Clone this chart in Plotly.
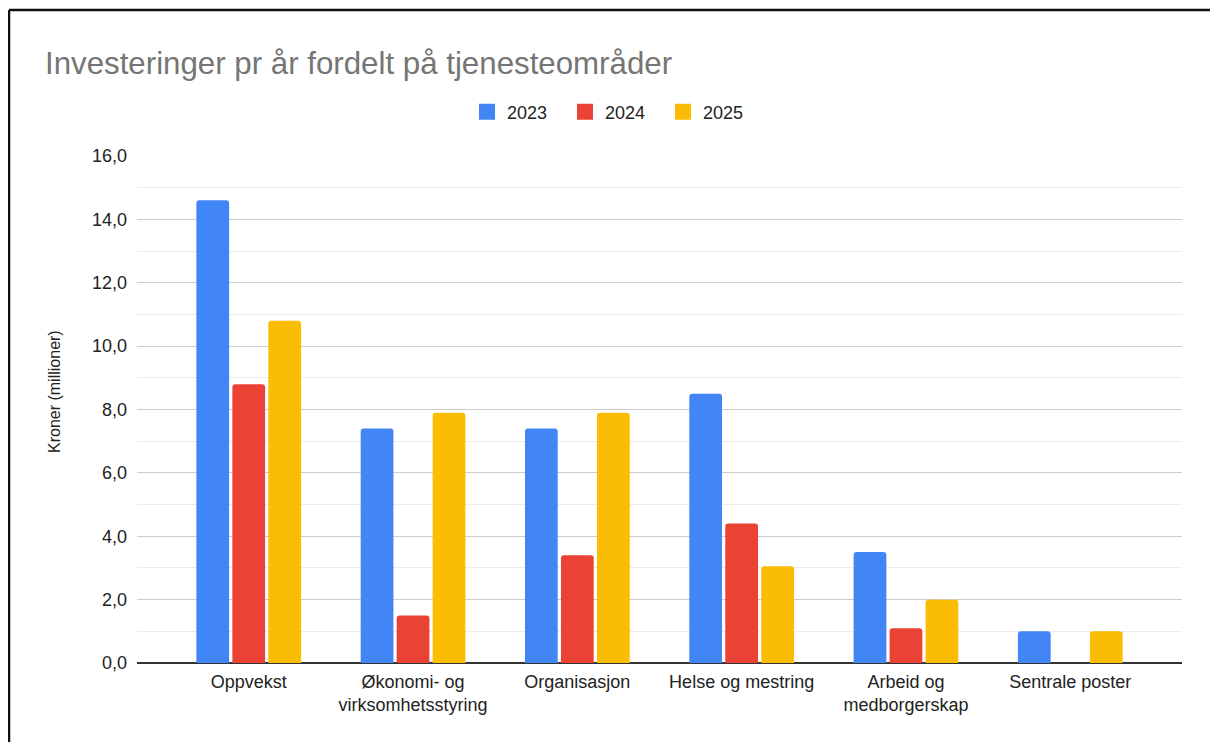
import plotly.graph_objects as go

categories = ["Oppvekst", "Økonomi- og<br>virksomhetsstyring", "Organisasjon",
              "Helse og mestring", "Arbeid og<br>medborgerskap", "Sentrale poster"]
series_names = ["2023", "2024", "2025"]
v2023 = [14.6, 7.4, 7.4, 8.5, 3.5, 1.0]
v2024 = [8.8, 1.5, 3.4, 4.4, 1.1, None]
v2025 = [10.8, 7.9, 7.9, 3.05, 2.0, 1.0]
colors = ["#4285F4", "#EA4335", "#FBBC04"]
y_ticks = [0, 2, 4, 6, 8, 10, 12, 14, 16]
y_title = "Kroner (millioner)"

OFF = 8  # page offset of the figure in the browser
W, H = 1218 - OFF, 742 - OFF
L, T = 137 - OFF, 156 - OFF
R = W - (1182 - OFF)
B = H - (663 - OFF)
pw, ph = W - L - R, H - T - B

def px_x(p):
    return (p - OFF - L) / pw

def px_y(p):
    return (H - B - (p - OFF)) / ph

fig = go.Figure()
for name, vals, col in zip(series_names, [v2023, v2024, v2025], colors):
    fig.add_trace(go.Bar(x=list(range(len(categories))), y=vals, name=name,
                         marker=dict(color=col, line=dict(width=0)),
                         legendgroup=name, showlegend=False))
# legend-only entries with larger square swatches
for name, col in zip(series_names, colors):
    fig.add_trace(go.Scatter(x=[None], y=[None], mode="markers", name=name,
                             legendgroup=name,
                             marker=dict(symbol="square", size=16, color=col,
                                         line=dict(width=0))))

font_family = "Arial, Liberation Sans, sans-serif"
fig.update_layout(
    width=W, height=H,
    margin=dict(l=L, r=R, t=T, b=B),
    paper_bgcolor="white", plot_bgcolor="white",
    separators=", ",
    barmode="group", bargap=0.343, bargroupgap=0.09,
    barcornerradius=3,
    font=dict(family=font_family, size=18, color="#222222"),
    title=dict(text="Investeringer pr år fordelt på tjenesteområder",
               x=(45 - OFF) / W, xref="container", xanchor="left",
               y=1 - (63 - OFF) / H, yref="container", yanchor="middle",
               font=dict(size=31.25, color="#757575", family=font_family)),
    legend=dict(orientation="h", x=px_x(614), xanchor="center",
                y=px_y(112), yanchor="middle",
                font=dict(size=18, color="#222222"),
                itemwidth=30, entrywidth=53, entrywidthmode="pixels",
                traceorder="normal", itemsizing="trace"),
    showlegend=True,
)
fig.update_xaxes(
    tickmode="array", tickvals=list(range(len(categories))), ticktext=categories,
    range=[-0.68, len(categories) - 1 + 0.68],
    showgrid=False, showline=False, zeroline=False,
    ticklabelstandoff=6,
    tickfont=dict(size=18, color="#222222"),
)
fig.update_yaxes(
    range=[0, 16], tickmode="array", tickvals=y_ticks,
    tickformat=".1f",
    showgrid=True, gridcolor="#cccccc", gridwidth=1,
    minor=dict(dtick=1, showgrid=True, gridcolor="#ebebeb", gridwidth=1),
    zeroline=True, zerolinecolor="#333333", zerolinewidth=1.5,
    showline=False,
    ticklabelstandoff=9,
    tickfont=dict(size=18, color="#222222"),
)

fig.add_annotation(text=y_title, textangle=-90, showarrow=False,
                   xref="paper", yref="paper", x=px_x(54), y=px_y(392),
                   xanchor="center", yanchor="middle",
                   font=dict(size=16, color="#222222"))

# black frame of the screenshot (top and left edges)
fig.add_shape(type="line", xref="paper", yref="paper",
              x0=px_x(9), x1=px_x(1230), y0=px_y(10), y1=px_y(10),
              line=dict(color="#111111", width=2.5))
fig.add_shape(type="line", xref="paper", yref="paper",
              x0=px_x(9), x1=px_x(9), y0=px_y(10), y1=px_y(760),
              line=dict(color="#111111", width=2.5))

fig.write_html("out.html")
